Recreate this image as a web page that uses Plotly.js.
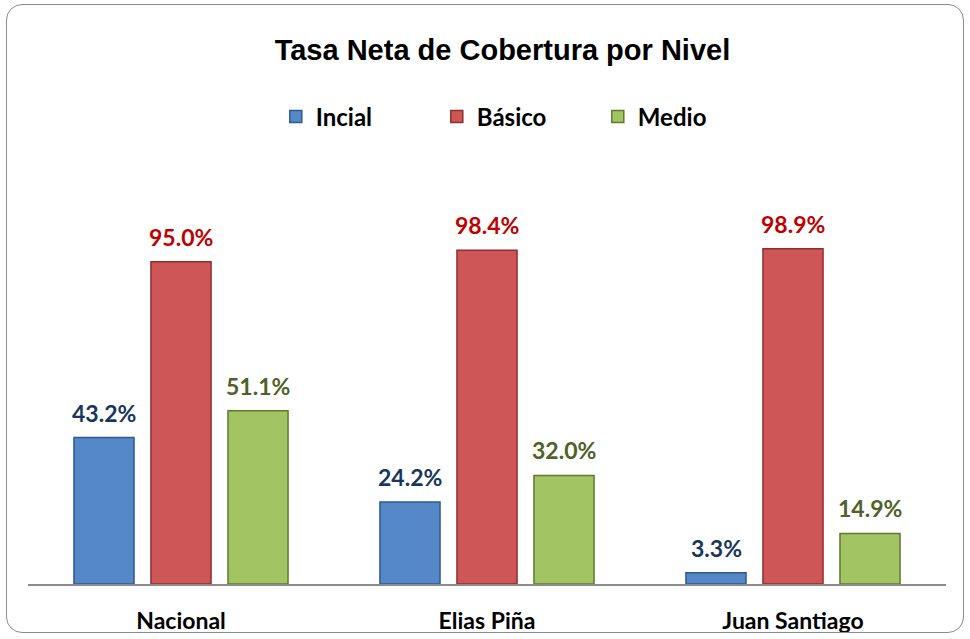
<!DOCTYPE html>
<html>
<head>
<meta charset="utf-8">
<script src="https://cdn.plot.ly/plotly-3.0.1.min.js"></script>
<style>
  body { margin: 0; background: #fff; }
  #chart { position: absolute; left: 0; top: 0; width: 970px; height: 639px; }
  .frame {
    position: absolute; left: 6px; top: 4px; width: 956px; height: 627px;
    border: 1.5px solid #8c8c8c; border-radius: 16px; pointer-events: none;
  }
</style>
</head>
<body>
<div id="chart"></div>
<div class="frame"></div>
<script>
// valores
let regiones = ['Nacional', 'Elias Piña', 'Juan Santiago']
let niveles = ['Incial', 'Básico', 'Medio']
let inicial = [43.2, 24.2, 3.3]
let basico = [95.0, 98.4, 98.9]
let medio = [51.1, 32.0, 14.9]

const labelFont = 'Lato, "Open Sans", sans-serif'

let estilos = [
  { fill: '#5588c9', edge: '#2e5a8e', text: '#17365d' },
  { fill: '#cf5656', edge: '#8e2f2e', text: '#c00000' },
  { fill: '#a2c462', edge: '#5f7a2e', text: '#4f6228' },
]

let series = [inicial, basico, medio]

let data = series.map((values, i) => ({
  x: regiones,
  y: values,
  type: 'bar',
  name: niveles[i],
  marker: { color: estilos[i].fill, line: { color: estilos[i].edge, width: 1.5 } },
  hoverinfo: 'skip',
}))

// etiquetas de valor encima de cada barra (desplazadas segun la serie dentro del grupo)
const barPitch = 77
let annotations = []
series.forEach((values, i) => {
  values.forEach((v, j) => {
    annotations.push({
      x: regiones[j],
      y: v,
      xref: 'x',
      yref: 'y',
      text: '<b>' + v.toFixed(1) + '%</b>',
      showarrow: false,
      xshift: (i - 1) * barPitch,
      yshift: 25,
      yanchor: 'middle',
      font: { family: labelFont, size: 23, color: estilos[i].text },
    })
  })
})

let layout = {
  width: 970,
  height: 639,
  margin: { l: 28, r: 24, t: 211, b: 55 },
  paper_bgcolor: 'rgba(0,0,0,0)',
  plot_bgcolor: 'rgba(0,0,0,0)',
  title: {
    text: '<b>Tasa Neta de Cobertura por Nivel</b>',
    font: { family: '"Liberation Sans", Arial, sans-serif', size: 29, color: '#000' },
    xref: 'container',
    x: 0.518,
    xanchor: 'center',
    yref: 'container',
    y: 0.922,
    yanchor: 'middle',
  },
  barmode: 'group',
  bargap: 0.245,
  bargroupgap: 0.22,
  showlegend: true,
  legend: {
    orientation: 'h',
    x: 0.533,
    xanchor: 'center',
    y: 1.252,
    yanchor: 'middle',
    font: { family: labelFont, size: 24, color: '#000', weight: 'bold' },
    entrywidth: 116,
    itemwidth: 30,
  },
  annotations: annotations,
  xaxis: {
    showline: true,
    linecolor: '#8c8c8c',
    linewidth: 1.5,
    showgrid: false,
    ticks: '',
    ticklabelstandoff: 16,
    tickfont: { family: labelFont, size: 23, color: '#000', weight: 'bold' },
    fixedrange: true,
  },
  yaxis: {
    range: [0, 110],
    visible: false,
    showgrid: false,
    zeroline: false,
    fixedrange: true,
  },
}

Plotly.newPlot('chart', data, layout, { displayModeBar: false, staticPlot: true })
</script>
</body>
</html>
